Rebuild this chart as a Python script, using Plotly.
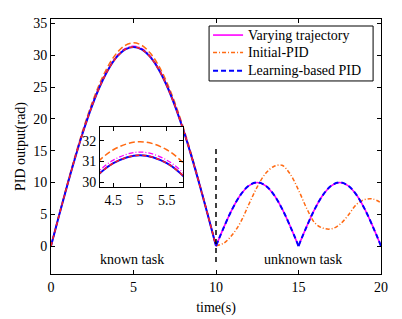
import plotly.graph_objects as go

# ---------------- data ----------------
t_known = [0, 0.5, 1, 1.5, 2, 2.5, 3, 3.5, 4, 4.5, 5, 5.5, 6, 6.5, 7, 7.5, 8, 8.5, 9, 9.5, 10]
learn_known = [0, 4.90, 9.67, 14.21, 18.40, 22.13, 25.32, 27.89, 29.77, 30.91, 31.30,
               30.91, 29.77, 27.89, 25.32, 22.13, 18.40, 14.21, 9.67, 4.90, 0]
traj_known = [0, 4.92, 9.72, 14.28, 18.49, 22.24, 25.44, 28.02, 29.91, 31.06, 31.45,
              31.06, 29.91, 28.02, 25.44, 22.24, 18.49, 14.28, 9.72, 4.92, 0]
init_known = [0, 5.00, 9.87, 14.51, 18.78, 22.59, 25.85, 28.47, 30.39, 31.56, 31.95,
              31.56, 30.39, 28.47, 25.85, 22.59, 18.78, 14.51, 9.87, 5.00, 0]

t_unknown = [10, 10.5, 11, 11.5, 12, 12.5, 13, 13.5, 14, 14.5, 15, 15.5, 16, 16.5, 17,
             17.5, 18, 18.5, 19, 19.5, 20]
traj_unknown = [0, 3.09, 5.88, 8.09, 9.51, 10.0, 9.51, 8.09, 5.88, 3.09, 0,
                3.09, 5.88, 8.09, 9.51, 10.0, 9.51, 8.09, 5.88, 3.09, 0]
learn_unknown = list(traj_unknown)
init_unknown = [0, 0.5, 1.8, 3.8, 6.6, 9.3, 11.4, 12.5, 12.7, 11.3, 8.8, 5.9, 3.6, 2.8, 2.7,
                3.4, 4.8, 6.5, 7.3, 7.4, 6.8]

switch_t = [10, 10]
switch_y = [-2.5, 15.5]

x_ticks = [0, 5, 10, 15, 20]
y_ticks = [0, 5, 10, 15, 20, 25, 30, 35]
inset_x_ticks = [4.5, 5, 5.5]
inset_y_ticks = [30, 31, 32]

legend_names = ["Varying trajectory", "Initial-PID", "Learning-based PID"]

known_label_pos = (4.9, -2.1)
unknown_label_pos = (15.25, -2.1)

FONT = "Liberation Serif, Times New Roman, DejaVu Serif, serif"
MAGENTA = "#ff00ff"
ORANGE = "#ff6a13"
BLUE = "#0000ff"
RED = "#ff2020"

legend_styles = [
    dict(color=MAGENTA, width=1.6, dash="solid"),
    dict(color=ORANGE, width=1.5, dash="4px,2px,1px,2px"),
    dict(color=BLUE, width=2, dash="5px,3px"),
]


def split_at_cusp(xs, ys, idx):
    return xs[:idx + 1] + [None] + xs[idx:], ys[:idx + 1] + [None] + ys[idx:]


cusp = t_unknown.index(15)
xu, yu = split_at_cusp(t_unknown, traj_unknown, cusp)
xl, yl = split_at_cusp(t_unknown, learn_unknown, cusp)

fig = go.Figure()


def add_known(xa, ya):
    fig.add_trace(go.Scatter(x=t_known, y=init_known, mode="lines", xaxis=xa, yaxis=ya,
                             line=dict(color=ORANGE, width=1.5, dash="6px,3px", shape="spline"),
                             showlegend=False, hoverinfo="skip"))
    fig.add_trace(go.Scatter(x=t_known, y=traj_known, mode="lines", xaxis=xa, yaxis=ya,
                             line=dict(color=MAGENTA, width=1.3, dash="5px,2px,1px,2px", shape="spline"),
                             showlegend=False, hoverinfo="skip"))
    fig.add_trace(go.Scatter(x=t_known, y=learn_known, mode="lines", xaxis=xa, yaxis=ya,
                             line=dict(color=BLUE, width=2, shape="spline"),
                             showlegend=False, hoverinfo="skip"))
    fig.add_trace(go.Scatter(x=t_known, y=learn_known, mode="lines", xaxis=xa, yaxis=ya,
                             line=dict(color=RED, width=1.5, dash="4px,3px", shape="spline"),
                             showlegend=False, hoverinfo="skip"))


add_known("x", "y")

# unknown task
fig.add_trace(go.Scatter(x=xu, y=yu, mode="lines", name=legend_names[0],
                         line=dict(legend_styles[0], shape="spline"), connectgaps=False,
                         showlegend=False))
fig.add_trace(go.Scatter(x=t_unknown, y=init_unknown, mode="lines", name=legend_names[1],
                         line=dict(legend_styles[1], shape="spline"), showlegend=False))
fig.add_trace(go.Scatter(x=xl, y=yl, mode="lines", name=legend_names[2],
                         line=dict(legend_styles[2], shape="spline"), connectgaps=False,
                         showlegend=False))

fig.add_trace(go.Scatter(x=switch_t, y=switch_y, mode="lines", showlegend=False,
                         line=dict(color="black", width=1.5, dash="5px,4px"), hoverinfo="skip"))

add_known("x2", "y2")

# ---- legend box (drawn to match the compact MATLAB legend) ----
box_x0, box_x1, box_y0, box_y1 = 0.479, 0.976, 0.757, 0.9725
sample_x0, sample_x1, text_x = 0.491, 0.582, 0.591
row_y = [0.937, 0.869, 0.797]
shapes = [dict(type="rect", xref="paper", yref="paper", x0=box_x0, x1=box_x1, y0=box_y0, y1=box_y1,
               line=dict(color="black", width=1), fillcolor="white", layer="above")]
annotations = []
for name, style, ry in zip(legend_names, legend_styles, row_y):
    shapes.append(dict(type="line", xref="paper", yref="paper", x0=sample_x0, x1=sample_x1,
                       y0=ry, y1=ry, line=style, layer="above"))
    annotations.append(dict(x=text_x, y=ry, xref="paper", yref="paper", text=name,
                            xanchor="left", yanchor="middle", showarrow=False,
                            font=dict(family=FONT, size=14, color="black")))

annotations += [
    dict(x=known_label_pos[0], y=known_label_pos[1], xref="x", yref="y", text="known task",
         showarrow=False, font=dict(family=FONT, size=14, color="black")),
    dict(x=unknown_label_pos[0], y=unknown_label_pos[1], xref="x", yref="y", text="unknown task",
         showarrow=False, font=dict(family=FONT, size=14, color="black")),
]

axis_common = dict(showline=True, linecolor="black", linewidth=1, mirror="ticks",
                   ticks="inside", ticklen=4, tickcolor="black", showgrid=False, zeroline=False,
                   automargin=False,
                   tickfont=dict(family=FONT, size=14, color="black"))

fig.update_layout(
    width=402, height=319,
    margin=dict(l=43, r=29, t=11, b=53),
    paper_bgcolor="white", plot_bgcolor="white",
    font=dict(family=FONT, size=14, color="black"),
    xaxis=dict(range=[0, 20], tickvals=x_ticks, domain=[0, 1],
               title=dict(text="time(s)", font=dict(family=FONT, size=14), standoff=8),
               **axis_common),
    yaxis=dict(range=[-4.4, 35.7], tickvals=y_ticks, domain=[0, 1],
               title=dict(text="PID output(rad)", font=dict(family=FONT, size=14), standoff=4),
               **axis_common),
    xaxis2=dict(range=[4.25, 5.81], tickvals=inset_x_ticks, ticktext=["4.5", "5", "5.5"],
                domain=[0.1485, 0.401], anchor="y2", **axis_common),
    yaxis2=dict(range=[29.77, 32.68], tickvals=inset_y_ticks, domain=[0.342, 0.578],
                anchor="x2", **axis_common),
    showlegend=False,
    shapes=shapes,
    annotations=annotations,
)

fig.write_html("out.html")
